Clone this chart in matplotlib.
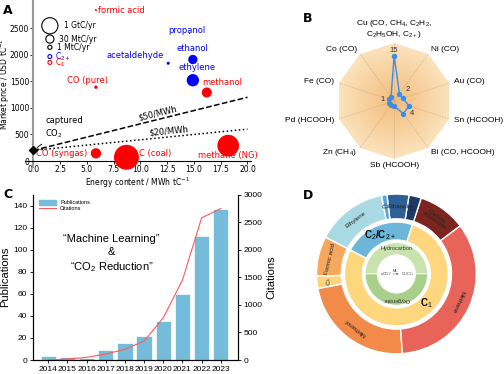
import numpy as np
import matplotlib.pyplot as plt
from matplotlib.lines import Line2D
from matplotlib.patches import Patch

# ---------------- data ----------------
# A: CO2 products (energy content MWh/tC, price USD/tC, market MtC/yr)
prod_names = ['formic acid', 'propanol', 'acetaldehyde', 'ethanol', 'ethylene',
              'methanol', 'CO (pure)', 'CO (syngas)', 'C (coal)', 'methane (NG)']
prod_energy = [5.85, 14.6, 12.6, 14.9, 14.9, 16.2, 5.85, 5.85, 8.7, 18.2]
prod_price = [2840, 2400, 1840, 1910, 1520, 1290, 1390, 145, 70, 290]
prod_market = [0.03, 0.002, 0.27, 84, 355, 121, 0.48, 141, 13000, 6300]
prod_group = ['C1', 'C2+', 'C2+', 'C2+', 'C2+', 'C1', 'C1', 'C1', 'C1', 'C1']
co2_price = 200
elec_prices = [50, 20]  # USD/MWh

# B: catalysts
metals = ['Cu (CO, CH$_4$, C$_2$H$_2$,\nC$_2$H$_5$OH, C$_{2+}$)', 'Ni (CO)', 'Au (CO)',
          'Sn (HCOOH)', 'Bi (CO, HCOOH)', 'Sb (HCOOH)', 'Zn (CH$_4$)',
          'Pd (HCOOH)', 'Fe (CO)', 'Co (CO)']
metal_counts = [15, 2, 2, 4, 4, 1, 1, 1, 1, 1]

# C: publications
years = [2014, 2015, 2016, 2017, 2018, 2019, 2020, 2021, 2022, 2023]
publications = [4, 3, 2, 9, 15, 22, 35, 60, 112, 137]
citations = [0, 18, 48, 109, 194, 344, 766, 1448, 2576, 2745]

# D: products studied
outer_labels = ['Carbon\nmonoxide', 'C$_3$', 'Ethanol', 'C$_2$', 'Ethylene',
                'Formic acid', 'C$_1$', 'Methanol', 'Methane']
outer_values = [35, 9, 16, 4, 52, 29, 9, 84, 123]
outer_group = ['C1', 'C2', 'C2', 'C2', 'C2', 'C1', 'C1', 'C1', 'C1']
inner_labels = ['Hydrocarbon', 'Oxygenate']
inner_values = [50, 50]

plt.rcParams['mathtext.fontset'] = 'custom'
plt.rcParams['mathtext.rm'] = 'Liberation Sans'
plt.rcParams['mathtext.it'] = 'Liberation Sans:italic'
plt.rcParams['mathtext.bf'] = 'Liberation Sans:bold'

fig = plt.figure(figsize=(5.04, 3.74), dpi=100)

# ================= A =================
red, blue = '#ff0000', '#0000ff'
mf = 'dejavusans'
ax = fig.add_axes([0.049, 0.5524, 0.4484, 0.4476])
ax.set_xlim(-0.8, 20.3)
ax.set_ylim(-120, 3030)


def bubble(m):
    return 8 * np.power(m, 0.39)


cols = [red if g == 'C1' else blue for g in prod_group]
ax.scatter(prod_energy, prod_price, s=bubble(np.array(prod_market)), c=cols,
           clip_on=False, zorder=3, linewidths=0)

offsets = {'formic acid': (1.5, 0, 'left', 'center'), 'propanol': (-2, 2, 'center', 'center'),
           'acetaldehyde': (-3, 2, 'right', 'bottom'), 'ethanol': (0, 8, 'center', 'center'),
           'ethylene': (3, 9.5, 'center', 'center'), 'methanol': (11, 7, 'center', 'center'),
           'CO (pure)': (-6, 5, 'center', 'center'), 'CO (syngas)': (-6, 0, 'right', 'center'),
           'C (coal)': (9, 3, 'left', 'center'), 'methane (NG)': (0, -7, 'center', 'center')}
for n, x, y, c in zip(prod_names, prod_energy, prod_price, cols):
    dx, dy, ha, va = offsets[n]
    ax.annotate(n, (x, y), xytext=(dx, dy), textcoords='offset points',
                ha=ha, va=va, color=c, fontsize=6)

ax.plot(0, co2_price, 'kD', ms=4, clip_on=False, zorder=4)
ax.annotate('captured\nCO$_2$', xy=(0.15, 225), xytext=(1.1, 620), fontsize=6,
            ha='left', va='center', math_fontfamily=mf,
            arrowprops=dict(arrowstyle='-', lw=0.6, color='k'))
xx = np.array([0, 20])
for p, ls, tx in zip(elec_prices, ['--', ':'], [11.7, 12.7]):
    yy = co2_price + p * xx
    ax.plot(xx, yy, color='k', ls=ls, lw=1.1)
    p1 = ax.transData.transform((xx[0], yy[0]))
    p2 = ax.transData.transform((xx[1], yy[1]))
    ang = np.degrees(np.arctan2(p2[1] - p1[1], p2[0] - p1[0]))
    ax.text(tx, co2_price + p * tx + 25, r'\$%d/MWh' % p, rotation=ang,
            rotation_mode='anchor', ha='center', va='bottom', fontsize=6)

# bubble legend
for m, lab, y in zip([1000, 30, 1], ['1 GtC/yr', '30 MtC/yr', '1 MtC/yr'], [2545, 2295, 2140]):
    ax.scatter(1.55, y, s=bubble(m) * 1.15, facecolors='none', edgecolors='k', lw=0.8)
    ax.text(1.55 + 0.45 + 0.08 * np.sqrt(bubble(m)), y, lab, fontsize=5.5, va='center')
for c, lab, y in zip([blue, red], ['C$_{2+}$', 'C$_1$'], [1965, 1855]):
    ax.scatter(1.55, y, s=8, facecolors='none', edgecolors=c, lw=0.8)
    ax.text(2.0, y, lab, fontsize=5.5, va='center', color=c, math_fontfamily=mf)

ax.spines['left'].set_position(('data', 0))
ax.spines['bottom'].set_position(('data', 0))
ax.spines['left'].set_color('#999999')
ax.spines['left'].set_linewidth(1.5)
ax.spines['top'].set_visible(False)
ax.spines['right'].set_visible(False)
ax.set_xticks(np.arange(0, 20.1, 2.5))
ax.set_xticklabels(['%.1f' % v for v in np.arange(0, 20.1, 2.5)])
ax.set_yticks(np.arange(0, 2501, 500))
ax.tick_params(labelsize=5.5, length=2, width=0.6, pad=1)
ax.set_xlabel('Energy content / MWh tC$^{-1}$', fontsize=5.5, labelpad=1, math_fontfamily=mf)
ax.set_ylabel('Market price / USD tC$^{-1}$', fontsize=5.5, labelpad=1, math_fontfamily=mf)
ax.yaxis.set_label_coords(-0.058, 0.5)

plt.rcParams['font.family'] = ['Liberation Sans', 'DejaVu Sans']

# ================= B =================
pw = 0.8
fwd = lambda r: np.power(np.clip(r, 0, None), pw)
inv = lambda r: np.power(np.clip(r, 0, None), 1 / pw)
rmax = 20.4
axb = fig.add_axes([0.782 - 0.115, 0.730 - 0.155, 0.230, 0.310], projection='polar')
axb.set_theta_offset(np.pi / 2)
axb.set_theta_direction(-1)
axb.set_rscale('function', functions=(fwd, inv))
axb.set_rlim(0, rmax)
th = np.linspace(0, 2 * np.pi, len(metals), endpoint=False)
thc = np.append(th, th[0])
edge = np.array([251, 226, 188]) / 255
centre = np.array([244, 188, 122]) / 255
N = 40
for k in range(N):
    f = 1 - k / N
    col = edge * f + centre * (1 - f)
    axb.fill(thc, np.full(len(thc), inv(fwd(rmax) * f)), color=col, lw=0, zorder=0)
for t in th:
    axb.plot([t, t], [0, rmax], ls=(0, (1, 1.5)), color='#b9a58a', lw=0.5, zorder=1)
vals = np.append(metal_counts, metal_counts[0])
axb.plot(thc, vals, '-o', color='#3a8ee6', lw=1, ms=2.8, zorder=3)
for t, lab in zip(th, metals):
    s, c = np.sin(t), np.cos(t)
    if abs(s) < 0.1:
        ha, va, kk = 'center', ('bottom' if c > 0 else 'top'), 1.06
    else:
        ha, va, kk = ('left' if s > 0 else 'right'), 'center', 1.09
    axb.text(0.5 + 0.5 * kk * s, 0.5 + 0.5 * kk * c, lab, transform=axb.transAxes,
             ha=ha, va=va, fontsize=6, linespacing=1.0)
for i, (dx, dy) in zip([0, 1, 4, 8], [(0, 3.5), (6, 3), (6.5, 0), (-5, 0)]):
    axb.annotate(str(metal_counts[i]), (th[i], metal_counts[i]), xytext=(dx, dy),
                 textcoords='offset points', ha='center', va='center', fontsize=5.5,
                 color='#333333')
axb.set_xticks([])
axb.set_yticks([])
axb.grid(False)
axb.spines['polar'].set_visible(False)
axb.patch.set_visible(False)

# ================= C =================
axc = fig.add_axes([0.0655, 0.0374, 0.4067, 0.4425])
axc.bar(years, publications, width=0.8, color='#74bcd9', edgecolor='white', lw=0.5)
axc.set_xlim(2013.2, 2023.9)
axc.set_ylim(0, 150)
axc.set_xticks(years)
axc.set_yticks(np.arange(0, 141, 20))
axc.tick_params(labelsize=6, length=2.5, width=0.6, pad=1.5)
axc.set_ylabel('Publications', fontsize=8, labelpad=2)
axc.spines['top'].set_visible(False)
ax2 = axc.twinx()
ax2.plot(years, citations, color='#ff5a5a', lw=0.8)
ax2.set_ylim(0, 3000)
ax2.set_yticks(np.arange(0, 3001, 500))
ax2.tick_params(labelsize=6, length=2.5, width=0.6, pad=1.5)
ax2.set_ylabel('Citations', fontsize=8, labelpad=3)
ax2.spines['top'].set_visible(False)
axc.text(2017.3, 96, '\u201cMachine Learning\u201d\n&\n\u201cCO$_2$ Reduction\u201d',
         ha='center', va='center', fontsize=8, linespacing=1.3)
axc.legend([Patch(color='#74bcd9'), Line2D([], [], color='#ff5a5a', lw=0.8)],
           ['Publications', 'Citations'], loc='upper left', bbox_to_anchor=(0.01, 0.99),
           fontsize=4, frameon=False, handlelength=3, handleheight=0.9,
           labelspacing=0.1, borderaxespad=0.3)

# ================= D =================
axd = fig.add_axes([0.628, 0.0535, 0.317, 0.428])
outer_cols = ['#7a2520', '#1e3a66', '#2e5f95', '#5aa3d4', '#a9dae4',
              '#f6a95e', '#fdd57f', '#f28a4a', '#e8635a']
start = 37
wo, _ = axd.pie(outer_values, radius=1.0, startangle=start, colors=outer_cols,
                counterclock=True, wedgeprops=dict(width=0.31, edgecolor='white', lw=1))
c2_total = sum(v for v, g in zip(outer_values, outer_group) if g == 'C2')
c1_total = sum(v for v, g in zip(outer_values, outer_group) if g == 'C1')
mid_start = start + 360 * outer_values[0] / sum(outer_values)
wm, _ = axd.pie([c2_total, c1_total], radius=0.65, startangle=mid_start,
                colors=['#6cb7d9', '#fed67e'], counterclock=True,
                wedgeprops=dict(width=0.225, edgecolor='white', lw=1))
wi, _ = axd.pie(inner_values, radius=0.39, startangle=0, colors=['#c9e2ae', '#a8d08a'],
                counterclock=True, wedgeprops=dict(width=0.15, edgecolor='white', lw=0.5))
for w, lab in zip(wo, outer_labels):
    a = np.radians((w.theta1 + w.theta2) / 2)
    axd.text(0.845 * np.cos(a), 0.845 * np.sin(a), lab, rotation=np.degrees(a) - 90,
             ha='center', va='center', fontsize=4.5, color='#222222',
             rotation_mode='anchor', linespacing=1.0)
for w, lab in zip(wi, inner_labels):
    a = np.radians((w.theta1 + w.theta2) / 2)
    axd.text(0.315 * np.cos(a), 0.315 * np.sin(a), lab, rotation=np.degrees(a) - 90,
             ha='center', va='center', fontsize=4, color='#333333', rotation_mode='anchor')
a = np.radians((wm[0].theta1 + wm[0].theta2) / 2)
axd.text(0.53 * np.cos(a), 0.53 * np.sin(a), 'C$_2$/C$_{2+}$', ha='center', va='center',
         fontsize=7, fontweight='bold')
axd.text(0.37, -0.37, 'C$_1$', ha='center', va='center', fontsize=7, fontweight='bold')
axd.annotate('', xy=(0.06, 0), xytext=(-0.08, 0),
             arrowprops=dict(arrowstyle='-|>', lw=0.3, color='#444444', mutation_scale=2))
axd.text(-0.135, 0, 'nCO$_2$', fontsize=2.8, ha='center', va='center', color='#333333')
axd.text(0.14, 0, 'C$_1$/C$_{2+}$', fontsize=2.8, ha='center', va='center', color='#333333')
axd.text(-0.01, 0.035, 'ML', fontsize=2.8, ha='center', va='center', color='#333333')
axd.set_xlim(-1, 1)
axd.set_ylim(-1, 1)
axd.set_aspect('equal')

# panel letters
for lab, x, y in [('A', 3, 4), ('B', 303, 12), ('C', 3, 188), ('D', 303, 189)]:
    fig.text(x / 504, 1 - y / 374, lab, fontsize=9, fontweight='bold',
             ha='left', va='top', family='DejaVu Sans')

fig.savefig('out.png', dpi=100)
